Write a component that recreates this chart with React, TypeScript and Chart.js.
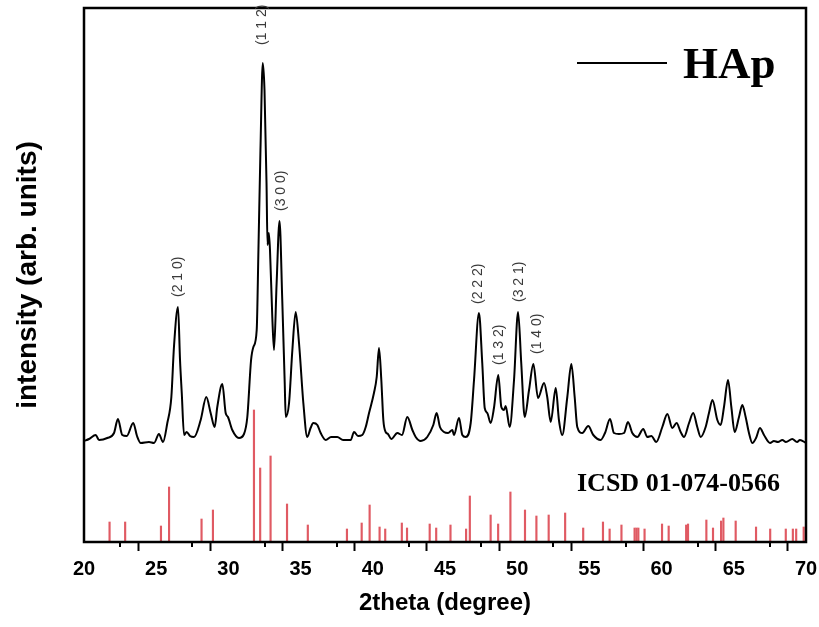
import React, { useEffect, useRef } from 'react';
import { Chart, registerables } from 'chart.js';

Chart.register(...registerables);

// Measured XRD pattern (2theta in degrees, intensity in arbitrary units)
const twoTheta = [
  20.00, 20.35, 20.81, 21.04, 21.61, 22.08, 22.35, 22.65, 22.96, 23.41, 23.67, 23.93, 24.50, 24.85, 25.19, 25.47,
  25.77, 26.05, 26.23, 26.51, 26.65, 26.77, 26.93, 27.11, 27.34, 27.62, 28.08, 28.47, 28.77, 29.05, 29.23, 29.58,
  29.81, 29.97, 30.27, 30.73, 31.08, 31.31, 31.57, 31.73, 31.96, 32.08, 32.22, 32.38, 32.50, 32.64, 32.71, 32.80,
  32.88, 33.04, 33.16, 33.34, 33.54, 33.73, 33.90, 33.97, 34.20, 34.43, 34.66, 34.89, 35.19, 35.46, 35.69, 35.88,
  36.16, 36.39, 36.74, 37.11, 37.54, 37.94, 38.47, 38.70, 38.98, 39.27, 39.51, 39.74, 40.08, 40.27, 40.43, 40.59,
  40.73, 40.89, 41.05, 41.28, 41.70, 42.02, 42.39, 42.74, 42.97, 43.32, 43.77, 44.19, 44.42, 44.65, 44.93, 45.21,
  45.51, 45.62, 45.97, 46.20, 46.43, 46.78, 47.01, 47.35, 47.58, 47.75, 47.93, 48.16, 48.39, 48.69, 48.90, 49.09,
  49.20, 49.48, 49.78, 50.06, 50.28, 50.52, 50.82, 51.12, 51.44, 51.86, 52.08, 52.32, 52.67, 52.89, 53.12, 53.47,
  53.75, 53.98, 54.16, 54.51, 54.92, 55.27, 55.78, 56.08, 56.43, 56.70, 57.05, 57.40, 57.67, 57.97, 58.32, 58.73,
  59.01, 59.29, 59.63, 60.05, 60.40, 60.74, 61.04, 61.32, 61.55, 61.90, 62.19, 62.47, 62.71, 63.05, 63.28, 63.52,
  63.86, 64.09, 64.32, 64.60, 64.83, 65.06, 65.36, 65.59, 65.82, 66.05, 66.28, 66.54, 66.81, 67.09, 67.51, 67.78,
  68.06, 68.36, 68.61, 69.05, 69.38, 69.58, 70.00,
];
const intensity = [
  101, 103, 107, 102, 104, 109, 123, 107, 106, 119, 106, 99, 100, 99, 108, 100,
  119, 145, 195, 235, 182, 149, 107, 110, 106, 105, 122, 145, 129, 115, 135, 158,
  129, 125, 112, 104, 108, 125, 182, 195, 212, 292, 392, 479, 452, 359, 297, 309,
  292, 225, 192, 259, 321, 242, 159, 125, 139, 192, 230, 199, 139, 105, 114, 119,
  117, 109, 102, 105, 105, 102, 102, 110, 106, 107, 115, 129, 149, 165, 194, 162,
  122, 110, 108, 103, 109, 107, 125, 112, 105, 101, 105, 117, 129, 115, 110, 109,
  112, 107, 124, 107, 105, 119, 162, 229, 179, 134, 129, 119, 134, 167, 135, 132,
  136, 115, 162, 230, 179, 125, 152, 178, 144, 159, 145, 120, 154, 122, 107, 145,
  178, 145, 115, 109, 116, 107, 102, 109, 123, 109, 108, 109, 120, 109, 105, 113,
  105, 106, 100, 115, 128, 114, 119, 110, 105, 119, 129, 115, 105, 115, 129, 142,
  122, 117, 135, 162, 135, 110, 125, 137, 125, 109, 99, 104, 114, 107, 99, 101,
  100, 102, 100, 103, 100, 102, 99,
];

// Reference pattern ICSD 01-074-0566 (stick positions and heights)
const refTwoTheta = [
  21.77, 22.85, 25.33, 25.89, 28.14, 28.93, 31.77, 32.20, 32.92, 34.06, 35.50, 38.21, 39.23, 39.78, 40.47, 40.86,
  42.01, 42.37, 43.94, 44.39, 45.38, 46.46, 46.72, 48.16, 48.68, 49.53, 50.54, 51.33, 52.18, 53.32, 54.57, 55.94,
  56.40, 57.22, 58.13, 58.26, 58.39, 58.82, 60.03, 60.49, 61.70, 61.83, 63.10, 63.56, 64.12, 64.28, 65.13, 66.54,
  67.52, 68.60, 69.09, 69.32, 69.84,
];
const refIntensity = [
  20, 20, 16, 55, 23, 32, 132, 74, 86, 38, 17, 13, 19, 37, 15, 13,
  19, 14, 18, 14, 17, 13, 46, 27, 18, 50, 32, 26, 27, 29, 14, 20,
  13, 17, 14, 14, 14, 13, 18, 16, 17, 18, 22, 14, 21, 24, 21, 15,
  13, 13, 13, 13, 15,
];

// Miller index annotations (anchor position of each label's start)
const peakLabels = ['(2 1 0)', '(1 1 2)', '(3 0 0)', '(2 2 2)', '(1 3 2)', '(3 2 1)', '(1 4 0)'];
const peakLabelTwoTheta = [26.55, 32.35, 33.62, 47.32, 48.72, 50.12, 51.37];
const peakLabelIntensity = [237, 489, 323, 230, 169, 232, 180];

const xMin = 20;
const xMax = 70;
const xMajorTicks = [20, 25, 30, 35, 40, 45, 50, 55, 60, 65, 70];

const seriesName = 'HAp';
const referenceName = 'ICSD 01-074-0566';

const SANS = "'Liberation Sans', Arial, Helvetica, sans-serif";
const SERIF = "'Liberation Serif', 'Times New Roman', serif";

const decorPlugin = {
  id: 'decor',
  afterDraw(chart: any) {
    const { ctx, chartArea, scales } = chart;
    const xs = scales.x;
    const ys = scales.y;
    ctx.save();
    // minor ticks
    ctx.strokeStyle = '#000';
    ctx.lineWidth = 2;
    for (let v = xMin + 2.5; v < xMax; v += 5) {
      const px = Math.round(xs.getPixelForValue(v));
      ctx.beginPath();
      ctx.moveTo(px, chartArea.bottom);
      ctx.lineTo(px, chartArea.bottom + 5);
      ctx.stroke();
    }
    // frame
    ctx.lineWidth = 2.5;
    ctx.strokeRect(chartArea.left, chartArea.top, chartArea.right - chartArea.left, chartArea.bottom - chartArea.top);

    // peak labels
    ctx.fillStyle = '#3a3a3a';
    ctx.font = `14px ${SANS}`;
    ctx.textAlign = 'left';
    ctx.textBaseline = 'middle';
    peakLabels.forEach((t, i) => {
      const px = xs.getPixelForValue(peakLabelTwoTheta[i]);
      const py = ys.getPixelForValue(peakLabelIntensity[i]) - 8;
      ctx.save();
      ctx.translate(px, py);
      ctx.rotate(-Math.PI / 2);
      ctx.fillText(t, 0, 0);
      ctx.restore();
    });

    // legend
    const lx = chartArea.left + 493;
    const ly = chartArea.top + 55;
    ctx.strokeStyle = '#000';
    ctx.lineWidth = 2;
    ctx.beginPath();
    ctx.moveTo(lx, ly);
    ctx.lineTo(lx + 90, ly);
    ctx.stroke();
    ctx.fillStyle = '#000';
    ctx.font = `bold 45px ${SERIF}`;
    ctx.textAlign = 'left';
    ctx.textBaseline = 'alphabetic';
    ctx.fillText(seriesName, lx + 106, ly + 15);

    // reference label
    ctx.font = `bold 26px ${SERIF}`;
    ctx.fillText(referenceName, chartArea.left + 493, chartArea.top + 483);
    ctx.restore();
  },
};

export default function App() {
  const ref = useRef<HTMLCanvasElement | null>(null);
  useEffect(() => {
    if (!ref.current) return;
    const chart = new Chart(ref.current, {
      type: 'line',
      data: {
        datasets: [
          {
            type: 'line',
            label: seriesName,
            data: twoTheta.map((x, i) => ({ x, y: intensity[i] })),
            borderColor: '#000',
            borderWidth: 2,
            pointRadius: 0,
            cubicInterpolationMode: 'monotone',
            fill: false,
            order: 1,
          } as any,
          {
            type: 'bar',
            label: referenceName,
            data: refTwoTheta.map((x, i) => ({ x, y: refIntensity[i] })),
            backgroundColor: '#e05a63',
            barThickness: 1.5,
            grouped: false,
            order: 2,
          } as any,
        ],
      },
      options: {
        animation: false,
        responsive: false,
        devicePixelRatio: 1,
        layout: { padding: { top: 8, right: 13, left: 0, bottom: 0 } },
        plugins: { legend: { display: false }, tooltip: { enabled: false } },
        scales: {
          x: {
            type: 'linear',
            min: xMin,
            max: xMax,
            offset: false,
            afterFit: (s: any) => {
              s.height = 85;
              s.paddingLeft = 0;
              s.paddingRight = 0;
            },
            afterBuildTicks: (s: any) => {
              const t: any[] = [];
              for (let v = xMin; v <= xMax; v += 2.5) t.push({ value: v, major: xMajorTicks.includes(v) });
              s.ticks = t;
            },
            ticks: {
              autoSkip: false,
              maxRotation: 0,
              padding: 6,
              color: '#000',
              font: { family: SANS, size: 20, weight: 'bold' },
              callback: (v: any) => (xMajorTicks.includes(Number(v)) ? String(v) : ''),
            },
            grid: {
              drawOnChartArea: false,
              drawTicks: true,
              tickLength: 9,
              tickWidth: 2,
              tickColor: (c: any) => (c.tick && xMajorTicks.includes(c.tick.value) ? '#000' : 'rgba(0,0,0,0)'),
            },
            border: { display: false },
            title: {
              display: true,
              text: '2theta (degree)',
              color: '#000',
              font: { family: SANS, size: 24, weight: 'bold' },
              padding: { top: 0, bottom: 9 },
            },
          },
          y: {
            type: 'linear',
            min: 0,
            max: 534,
            afterFit: (s: any) => {
              s.width = 84;
              s.paddingTop = 0;
              s.paddingBottom = 0;
            },
            ticks: { display: false },
            grid: { display: false },
            border: { display: false },
            title: {
              display: true,
              text: 'intensity (arb. units)',
              color: '#000',
              font: { family: SANS, size: 28, weight: 'bold' },
              padding: { top: 11, bottom: 0 },
            },
          },
        },
      },
      plugins: [decorPlugin],
    });
    return () => chart.destroy();
  }, []);
  return (
    <div style={{ position: 'fixed', left: 0, top: 0, width: 819, height: 627, background: '#fff' }}>
      <canvas ref={ref} width={819} height={627} />
    </div>
  );
}
